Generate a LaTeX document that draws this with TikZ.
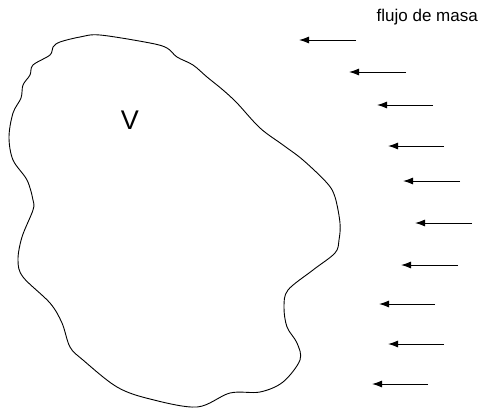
\documentclass[tikz,border=0pt]{standalone}
\usepackage{fontspec}
\setmainfont{Liberation Sans}
\usetikzlibrary{arrows.meta}
\tikzset{
  flow/.style={-{Latex[length=10pt,width=7pt]}, line width=1pt, black},
  outline/.style={line width=0.9pt, black},
  lbl/.style={inner sep=0pt, font=\fontsize{17}{19}\selectfont},
  vol/.style={inner sep=0pt, font=\fontsize{27}{30}\selectfont},
}
\begin{document}
\begin{tikzpicture}[x=1pt,y=-1pt]
\useasboundingbox (0,0) rectangle (482,408);
\draw[outline] plot[smooth cycle, tension=0.55] coordinates {
(100,35) (150,43) (167,48) (177,57) (193,65) (207,77) (223,90) (237,103)
(260,128) (283,145) (303,160) (327,183) (335,197) (340,223) (339,240)
(335,253) (313,270) (288,290) (284,307) (287,327) (297,343) (300,360)
(283,382) (260,392) (230,393) (197,407) (150,399) (117,387) (83,360)
(70,347) (62,323) (50,303) (23,277) (18,260) (22,237) (33,210) (33,200)
(27,180) (13,160) (9,137) (13,113) (21,98) (23,85) (30,75) (33,65)
(50,55) (53,47) (60,42) (80,37)};
\node[vol, anchor=base] (V) at (130,129) {V};
\node[lbl, anchor=base west] (label) at (376.5,21) {flujo de masa};
\foreach \i/\xa/\xb/\y in {1/299/356/40, 2/349/406/72, 3/377/433/105, 4/388/444/146,
  5/403/460/181, 6/415/472/223, 7/401/458/265, 8/379/435/304, 9/388/444/344, 10/372/428/384}{
  \coordinate (s\i) at (\xb,\y);
  \coordinate (t\i) at (\xa,\y);
  \draw[flow] (s\i) -- (t\i);
}
\end{tikzpicture}
\end{document}
